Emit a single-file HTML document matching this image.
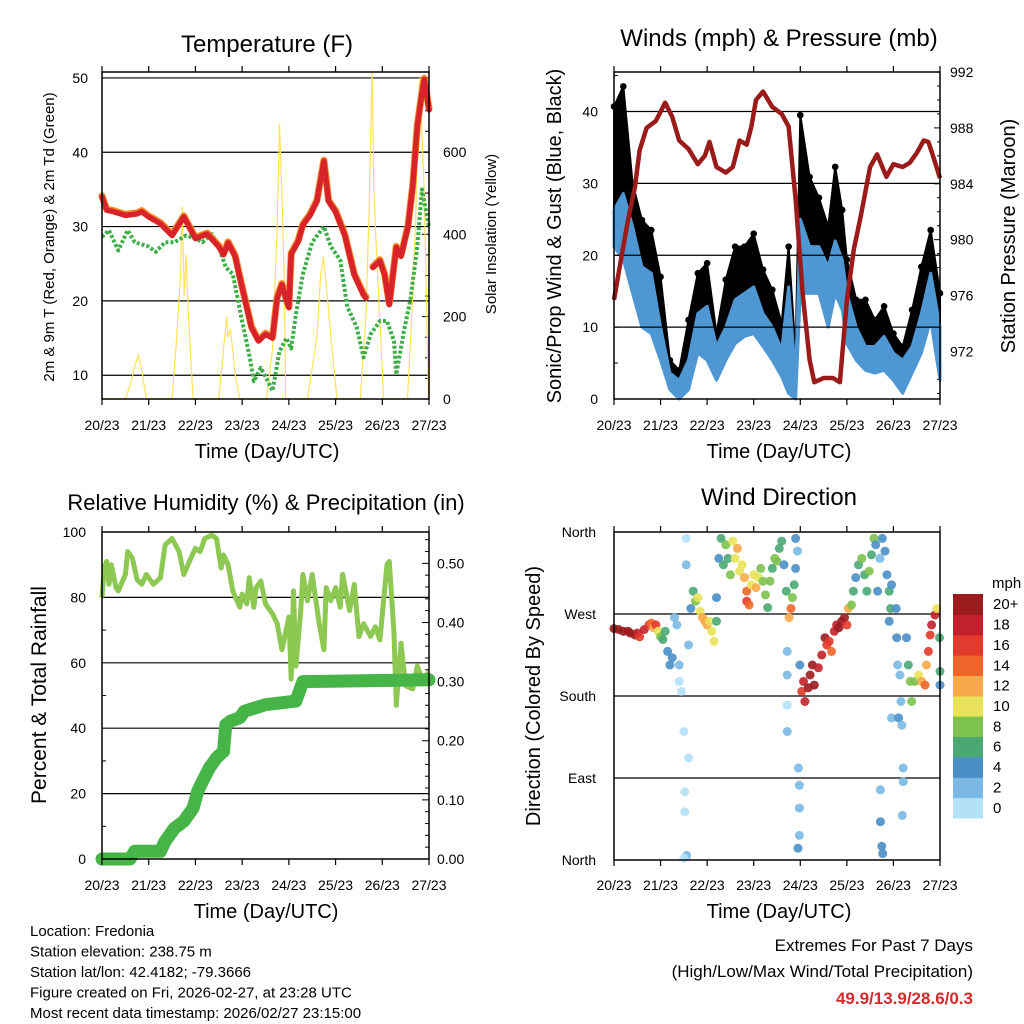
<!DOCTYPE html>
<html><head><meta charset="utf-8"><style>
html,body{margin:0;padding:0;background:#fff;}
svg{display:block;font-family:"Liberation Sans",sans-serif;}
</style></head><body>
<svg id="chart" width="1024" height="1024" viewBox="0 0 1024 1024" xmlns="http://www.w3.org/2000/svg">
<rect width="1024" height="1024" fill="#fff"/>
<g id="g1"></g>
<g id="g2"></g>
<g id="g3"></g>
<g id="g4"></g>
<g id="gt"></g>
</svg>
<script>
// ---------- DATA ----------
const xTickLabels = ["20/23","21/23","22/23","23/23","24/23","25/23","26/23","27/23"];
const tempTime = [0,0.1,0.25,0.5,0.75,0.85,1.0,1.25,1.5,1.75,2.0,2.25,2.5,2.6,2.7,2.85,3.0,3.2,3.35,3.5,3.65,3.75,3.85,3.95,4.0,4.05,4.2,4.3,4.45,4.6,4.75,4.85,5.0,5.2,5.4,5.6,5.65];
const tempValue = [34.0,32.2,32.0,31.5,31.7,32,31.3,30.4,28.8,31.3,28.4,29,27.3,26.2,27.8,26,21.8,16.4,14.6,15.5,15.0,20.4,22.2,20,19.1,26.3,28,30.2,31.5,33.4,38.8,33.4,32,28.8,23.5,20.8,20.4];
const tempTime2 = [5.8,5.95,6.05,6.15,6.3,6.4,6.55,6.65,6.75,6.85,6.9,7.0];
const tempValue2 = [24.5,25.4,23.5,19.5,27.2,26,30,35.4,43.5,48,49.8,45.7];
const dewTime = [0,0.15,0.35,0.55,0.7,1.0,1.15,1.35,1.55,1.8,2.0,2.15,2.35,2.5,2.65,2.8,3.0,3.15,3.25,3.4,3.55,3.65,3.8,3.95,4.05,4.15,4.3,4.5,4.75,4.9,5.1,5.25,5.45,5.6,5.75,5.95,6.1,6.25,6.3,6.45,6.6,6.75,6.85,7.0];
const dewValue = [28.6,29.5,26.8,29.5,27.9,27.3,26.6,27.9,27.9,28.8,28.4,27.9,29,27.3,24.5,23.6,17.3,12.8,9.2,11.0,9.2,7.9,13.2,15,13.6,18.2,23.6,27.9,30,27.3,25.5,19.2,16.5,12.4,15.5,17.3,17.3,14.6,10.1,15.5,20.1,27.3,35,30];
const solarTime = [0,0.5,0.62,0.7,0.78,0.85,0.95,1.5,1.6,1.68,1.72,1.76,1.8,1.85,1.95,2.5,2.6,2.67,2.7,2.75,2.85,2.95,3.52,3.65,3.75,3.8,3.85,3.9,3.93,4.4,4.6,4.68,4.74,4.8,4.9,5.03,5.53,5.65,5.72,5.78,5.82,5.9,6.03,6.54,6.65,6.72,6.75,6.8,6.9,6.99];
const solarValue = [0,0,40,80,107,70,0,0,150,300,467,250,350,200,0,0,120,200,150,170,60,0,0,120,420,670,500,300,0,0,150,300,346,280,150,0,0,200,470,795,500,300,0,0,250,450,660,780,500,0];
const presTime = [0,0.15,0.3,0.45,0.55,0.7,0.9,1.1,1.25,1.4,1.6,1.8,1.95,2.05,2.2,2.4,2.55,2.7,2.85,2.95,3.05,3.2,3.4,3.6,3.75,3.9,4.05,4.2,4.3,4.5,4.7,4.85,5.0,5.15,5.3,5.5,5.65,5.85,6.0,6.2,6.35,6.5,6.65,6.75,6.85,7.0];
const presValue = [975.7,978.6,981.4,983.8,986.4,988,988.5,989.8,988.8,987.1,986.5,985.4,986,987,985.2,984.8,985.2,987.1,986.8,988.1,990,990.6,989.5,989,988.1,982.9,976.2,971.4,969.8,970.1,970.1,969.8,975.7,979.3,981.7,985.2,986.1,984.5,985.4,985.2,985.5,986.2,987.1,987,986,984.4];
const windTime = [0,0.2,0.4,0.6,0.8,1.0,1.2,1.4,1.6,1.8,2.0,2.2,2.4,2.6,2.8,3.0,3.2,3.4,3.6,3.75,3.9,4.0,4.2,4.4,4.6,4.75,4.9,5.0,5.2,5.4,5.6,5.8,6.0,6.2,6.4,6.6,6.8,7.0];
const gustMax = [40.7,43.5,30,24.9,23.5,17,5.4,4,11,17.5,18.9,9.1,16.6,21.2,21.2,23,18,15.2,10.5,21.2,6.4,39.5,30.9,28,24,32.3,26.3,19.4,13.8,13.8,11,12.9,9.1,7.3,12.4,18.4,23.5,14.7];
const windMax = [26.3,28.6,24,18.4,17.5,10,3.6,2.6,5.4,11.9,12.9,7.3,10,13.8,14.7,15.6,11.9,10,6.8,15.6,3.1,25,21.2,21.2,18.4,22,19.4,14.7,10,7.3,7.3,8.7,6.4,5.4,7.3,11.9,17.5,10];
const windMin = [21.2,19.4,14.7,10,9.1,5.4,1.3,0,1.3,6.4,5.4,2.6,5.4,7.7,8.7,9.1,7.3,5.4,3.1,0.8,0,14.7,14.7,14.7,10,14.7,12.4,7.7,5.4,4,3.6,4,2.6,0.8,3.6,6.4,11,2.6];
const rhTime = [0,0.05,0.1,0.15,0.2,0.3,0.35,0.5,0.55,0.65,0.75,0.85,0.95,1.1,1.25,1.35,1.5,1.65,1.75,1.9,2.0,2.1,2.2,2.35,2.45,2.55,2.6,2.7,2.8,2.95,3.0,3.1,3.15,3.25,3.3,3.4,3.5,3.65,3.75,3.85,4.0,4.05,4.1,4.15,4.25,4.3,4.4,4.5,4.65,4.75,4.8,4.9,5.0,5.1,5.15,5.3,5.4,5.5,5.6,5.75,5.85,5.95,6.1,6.15,6.25,6.3,6.4,6.5,6.65,6.75,6.85,7.0];
const rhValue = [80,89,91,84,90,83,82,87,94,92,85.5,84,87,84,86,96,98,94,87,92,95,94,98,99,98,89,93,90,82,77,81,78,86,77,83,85,78,75,72,64,74,55,82,59,75,87,79,87,72,64,83,79,83,77,87,76,84,68,72,68,71,67,90,91,69,47,66,53,52,59,55,57];
const precipTime = [0,0.6,0.7,1.25,1.35,1.55,1.75,1.95,2.05,2.15,2.3,2.45,2.6,2.65,2.75,2.95,3.05,3.5,4.15,4.3,7.0];
const precipValue = [0,0,0.013,0.013,0.03,0.052,0.064,0.086,0.115,0.131,0.154,0.171,0.182,0.227,0.233,0.239,0.25,0.261,0.267,0.30,0.303];
const dirTime = [0,0.1,0.2,0.3,0.35,0.45,0.5,0.55,0.65,0.75,0.8,0.85,0.9,0.95,1.0,1.05,1.1,1.15,1.2,1.25,1.3,1.35,1.4,1.4,1.45,1.5,1.55,1.55,1.6,1.52,1.52,1.56,1.5,1.6,1.65,1.7,1.75,1.8,1.85,1.9,1.95,2.0,2.05,2.1,2.15,2.2,2.2,2.25,2.3,2.35,2.4,2.45,2.5,2.55,2.6,2.65,2.7,2.75,2.8,2.85,2.85,2.9,2.95,3.0,3.05,3.1,3.15,3.2,3.25,3.3,3.35,3.4,3.45,3.5,3.55,3.6,3.65,3.7,3.72,3.72,3.72,3.72,3.76,3.8,3.83,3.87,3.9,3.9,3.94,3.99,3.96,3.98,3.98,3.98,3.95,4.03,4.07,4.1,4.17,4.21,4.26,4.3,4.39,4.46,4.53,4.57,4.62,4.67,4.73,4.78,4.83,4.89,4.95,5.0,5.03,5.1,5.14,5.19,5.25,5.32,5.38,5.43,5.48,5.53,5.58,5.62,5.66,5.71,5.76,5.82,5.86,5.91,5.94,5.96,5.91,5.96,5.72,5.72,5.75,5.77,6.06,6.07,6.09,6.14,6.16,6.11,6.18,6.21,6.21,6.19,6.28,6.32,6.36,6.39,6.46,6.54,6.61,6.68,6.71,6.75,6.79,6.82,6.89,6.93,6.99,7.0,7.0];
const dirDeg = [254,253,251,251,249,247,249,245,253,258,260,255,258,251,245,242,251,229,214,222,266,258,214,196,185,141,353,324,112,75,53,5,2,236,276,295,284,288,273,266,262,258,262,251,240,262,288,331,353,324,346,331,313,350,331,342,317,324,310,295,284,280,302,313,299,310,320,306,291,277,306,320,331,328,342,350,324,295,229,203,170,141,266,276,288,302,320,353,339,214,101,82,57,27,13,185,196,174,189,203,214,192,211,225,244,236,240,229,251,258,255,262,266,258,276,280,295,310,324,331,313,295,317,335,353,346,295,331,353,339,313,295,276,302,262,156,77,42,15,7,276,244,214,203,174,156,148,101,86,49,244,214,196,174,196,203,196,192,214,229,247,258,269,276,244,207,192];
const dirSpeed = [20,20,20,20,20,20,18,16,18,16,14,12,16,10,8,6,6,4,4,4,2,2,2,0,0,0,0,1,0,0,0,1,0,2,4,6,8,10,10,12,12,12,10,10,10,6,4,4,6,6,8,6,8,10,10,12,10,10,12,14,16,14,10,10,12,10,8,8,8,6,8,6,8,8,6,6,4,6,2,1,0,1,12,14,8,6,4,4,2,4,2,2,2,2,4,16,18,18,20,20,20,20,18,18,20,16,16,14,18,18,20,20,20,16,12,8,6,4,6,8,6,6,8,6,8,4,4,2,4,4,4,6,6,4,4,1,2,4,4,4,4,3,2,1,2,3,2,1,1,1,4,6,8,8,8,10,12,14,12,16,16,18,18,10,6,6,4];
const speedLabels = ["0","2","4","6","8","10","12","14","16","18","20+"];
const speedColors = ["#b5e1f7","#7bb8e3","#4a8fc8","#4aa874","#7dc24e","#e9e25a","#f8a848","#f0662a","#e23a2c","#c2202a","#9b1b1e"];
const footerLines = ["Location: Fredonia","Station elevation: 238.75 m","Station lat/lon: 42.4182; -79.3666","Figure created on Fri, 2026-02-27, at 23:28 UTC","Most recent data timestamp: 2026/02/27 23:15:00"];

// ---------- HELPERS ----------
const NS="http://www.w3.org/2000/svg";
function mk(parent,tag,attrs,text){const e=document.createElementNS(NS,tag);for(const k in attrs)e.setAttribute(k,attrs[k]);if(text!==undefined)e.textContent=text;parent.appendChild(e);return e;}
function lin(d0,d1,r0,r1){return v=>r0+(v-d0)/(d1-d0)*(r1-r0);}
function pathOf(ts,vs,sx,sy){return ts.map((t,i)=>(i?"L":"M")+sx(t).toFixed(1)+","+sy(vs[i]).toFixed(1)).join("");}
function txt(parent,x,y,s,size,anchor,name,extra){const e=mk(parent,"text",Object.assign({x:x,y:y,"font-size":size,"text-anchor":anchor||"middle",fill:"#000"},extra||{}),s);


return e;}
function frame(g,x0,y0,x1,y1,name){
 const r=mk(g,"rect",{x:x0,y:y0,width:x1-x0,height:y1-y0,fill:"none",stroke:"#000","stroke-width":1.5});
 
 
}
function xAxis(g,sx,y0,y1,labY,name){
 xTickLabels.forEach((l,i)=>{const x=sx(i);
  mk(g,"line",{x1:x,x2:x,y1:y1,y2:y1-6,stroke:"#000","stroke-width":1.2});
  mk(g,"line",{x1:x,x2:x,y1:y0,y2:y0+6,stroke:"#000","stroke-width":1.2});
  txt(g,x,labY,l,14,"middle",name+"-tick-label");});
}
function hgrid(g,x0,x1,ys,name){ys.forEach(y=>{const l=mk(g,"line",{x1:x0,x2:x1,y1:y,y2:y,stroke:"#000","stroke-width":1.2});
 
 });}

// ---------- PANEL 1 ----------
(function(){
 const g=document.getElementById("g1");
 const sx=lin(0,7,102,429), sy=lin(6.8,50.8,399,72), ss=lin(0,794,399,72);
 [10,20,30,40,50].forEach(v=>txt(g,88,sy(v)+5,String(v),14,"end","temp-y-tick-label"));
 [0,200,400,600].forEach(v=>txt(g,443,ss(v)+5,String(v),14,"start","solar-y-tick-label"));
 hgrid(g,102,429,[10,20,30,40,50].map(sy),"temp-gridline");
 for(let v=0;v<=750;v+=50){const y=ss(v);mk(g,"line",{x1:429,x2:v%200?425:422,y1:y,y2:y,stroke:"#000","stroke-width":1});}
 const sol=mk(g,"path",{d:pathOf(solarTime,solarValue,sx,ss),fill:"none",stroke:"#ffe25a","stroke-width":1.2});
 
 
 const dew=mk(g,"path",{d:pathOf(dewTime,dewValue,sx,sy),fill:"none",stroke:"#3fae49","stroke-width":4,"stroke-dasharray":"3 2","stroke-linejoin":"round"});
 
 
 [[tempTime,tempValue],[tempTime2,tempValue2]].forEach(([t,v])=>{
  const o=mk(g,"path",{d:pathOf(t,v,sx,sy),fill:"none",stroke:"#f58a2a","stroke-width":7,"stroke-linejoin":"round","stroke-linecap":"round",transform:"translate(0,-1)"});
  
  
  const r=mk(g,"path",{d:pathOf(t,v,sx,sy),fill:"none",stroke:"#d8232a","stroke-width":5.5,"stroke-linejoin":"round","stroke-linecap":"round"});
  
  
 });
 frame(g,102,72,429,399,"temp-plot-frame");
 xAxis(g,sx,399,72,430,"temp-x");
 txt(g,267,52,"Temperature (F)",24,"middle","temp-title");
 txt(g,267,458,"Time (Day/UTC)",20,"middle","temp-x-axis-title");
 txt(g,0,0,"2m & 9m T (Red, Orange) & 2m Td (Green)",15,"middle","temp-y-axis-title",{transform:"translate(54,237) rotate(-90)"});
 txt(g,0,0,"Solar Insolation (Yellow)",15,"middle","solar-y-axis-title",{transform:"translate(496,234) rotate(-90)"});
})();

// ---------- PANEL 2 ----------
(function(){
 const g=document.getElementById("g2");
 const sx=lin(0,7,614,940), sy=lin(0,45.5,399,72), sp=lin(968.6,992,399,72);
 [0,10,20,30,40].forEach(v=>txt(g,598,sy(v)+5,String(v),14,"end","wind-y-tick-label"));
 [972,976,980,984,988,992].forEach(v=>txt(g,950,sp(v)+5,String(v),14,"start","pressure-y-tick-label"));
 for(let v=969;v<=992;v++){const y=sp(v);mk(g,"line",{x1:940,x2:v%4==0?934:937,y1:y,y2:y,stroke:"#000","stroke-width":1});}
 for(let v=5;v<=45;v+=5){const y=sy(v);mk(g,"line",{x1:614,x2:v%10?618:620,y1:y,y2:y,stroke:"#000","stroke-width":1});}
 let d=pathOf(windTime,gustMax,sx,sy);
 for(let i=windTime.length-1;i>=0;i--)d+="L"+sx(windTime[i]).toFixed(1)+","+sy(windMax[i]).toFixed(1);
 const gc=mk(g,"path",{d:d+"Z",fill:"#000",stroke:"#000","stroke-width":2,"stroke-linejoin":"round"});
 
 
 windTime.forEach((t,i)=>{const c=mk(g,"circle",{cx:sx(t),cy:sy(gustMax[i]),r:3.3,fill:"#000"});
  
  });
 let b=pathOf(windTime,windMax,sx,sy);
 for(let i=windTime.length-1;i>=0;i--)b+="L"+sx(windTime[i]).toFixed(1)+","+sy(windMin[i]).toFixed(1);
 const wb=mk(g,"path",{d:b+"Z",fill:"#4f97d3",stroke:"#4f97d3","stroke-width":3,"stroke-linejoin":"round"});
 
 
 hgrid(g,614,940,[10,20,30,40].map(sy),"wind-gridline");
 const p=mk(g,"path",{d:pathOf(presTime,presValue,sx,sp),fill:"none",stroke:"#9b1b1b","stroke-width":4.5,"stroke-linejoin":"round"});
 
 
 frame(g,614,72,940,399,"wind-plot-frame");
 xAxis(g,sx,399,72,430,"wind-x");
 txt(g,779,46,"Winds (mph) & Pressure (mb)",24,"middle","wind-title");
 txt(g,779,458,"Time (Day/UTC)",20,"middle","wind-x-axis-title");
 txt(g,0,0,"Sonic/Prop Wind & Gust (Blue, Black)",20,"middle","wind-y-axis-title",{transform:"translate(561,236) rotate(-90)"});
 txt(g,0,0,"Station Pressure (Maroon)",20,"middle","pressure-y-axis-title",{transform:"translate(1015,236) rotate(-90)"});
})();

// ---------- PANEL 3 ----------
(function(){
 const g=document.getElementById("g3");
 const sx=lin(0,7,102,429), sy=lin(0,100,859,532), sp=lin(0,0.553,859,532);
 [0,20,40,60,80,100].forEach(v=>txt(g,86,sy(v)+5,String(v),14,"end","rh-y-tick-label"));
 ["0.00","0.10","0.20","0.30","0.40","0.50"].forEach(v=>txt(g,437,sp(+v)+5,v,14,"start","precip-y-tick-label"));
 hgrid(g,102,429,[20,40,60,80].map(sy),"rh-gridline");
 for(let v=0.02;v<0.55;v+=0.02){const y=sp(v);mk(g,"line",{x1:429,x2:Math.round(v*100)%10?425:422,y1:y,y2:y,stroke:"#000","stroke-width":1});}
 for(let v=10;v<=90;v+=20){const y=sy(v);mk(g,"line",{x1:102,x2:106,y1:y,y2:y,stroke:"#000","stroke-width":1});}
 const rh=mk(g,"path",{d:pathOf(rhTime,rhValue,sx,sy),fill:"none",stroke:"#8dc853","stroke-width":5,"stroke-linejoin":"round"});
 
 
 const pr=mk(g,"path",{d:pathOf(precipTime,precipValue,sx,sp),fill:"none",stroke:"#46b446","stroke-width":13,"stroke-linejoin":"round","stroke-linecap":"round"});
 
 
 frame(g,102,532,429,859,"rh-plot-frame");
 xAxis(g,sx,859,532,890,"rh-x");
 txt(g,266,510,"Relative Humidity (%) & Precipitation (in)",22,"middle","rh-title");
 txt(g,266,918,"Time (Day/UTC)",20,"middle","rh-x-axis-title");
 txt(g,0,0,"Percent & Total Rainfall",21,"middle","rh-y-axis-title",{transform:"translate(46,695) rotate(-90)"});
})();

// ---------- PANEL 4 ----------
(function(){
 const g=document.getElementById("g4");
 const sx=lin(0,7,614,940), sy=lin(0,360,860,532);
 [["North",360],["West",270],["South",180],["East",90],["North",0]].forEach(([l,v])=>txt(g,596,sy(v)+5,l,14,"end","direction-y-tick-label"));
 hgrid(g,614,940,[90,180,270].map(sy),"direction-gridline");
 dirTime.forEach((t,i)=>{
  const c=mk(g,"circle",{cx:sx(t).toFixed(1),cy:sy(dirDeg[i]).toFixed(1),r:4.5,fill:speedColors[Math.min(10,Math.round(dirSpeed[i]/2))],"fill-opacity":0.9});
  
  });
 frame(g,614,532,940,860,"direction-plot-frame");
 xAxis(g,sx,860,532,890,"direction-x");
 txt(g,779,505,"Wind Direction",24,"middle","direction-title");
 txt(g,779,918,"Time (Day/UTC)",20,"middle","direction-x-axis-title");
 txt(g,0,0,"Direction (Colored By Speed)",20,"middle","direction-y-axis-title",{transform:"translate(540,696) rotate(-90)"});
 const h=224/11;
 speedColors.forEach((c,i)=>{const y=818-(i+1)*h;
  const r=mk(g,"rect",{x:953,y:y.toFixed(1),width:30,height:(h+0.5).toFixed(1),fill:c});
  
  
  txt(g,993,y+h/2+5,speedLabels[i],15,"start","colorbar-label");});
 txt(g,992,588,"mph",15,"start","colorbar-title");
})();

// ---------- FOOTER ----------
(function(){
 const g=document.getElementById("gt");
 footerLines.forEach((l,i)=>txt(g,30,936+i*20.5,l,15,"start","station-info-line"));
 txt(g,973,951,"Extremes For Past 7 Days",17,"end","extremes-title");
 txt(g,973,977,"(High/Low/Max Wind/Total Precipitation)",17,"end","extremes-subtitle");
 txt(g,973,1004,"49.9/13.9/28.6/0.3",17,"end","extremes-values",{fill:"#d42a2a","font-weight":"bold"});
})();
</script>
</body></html>
